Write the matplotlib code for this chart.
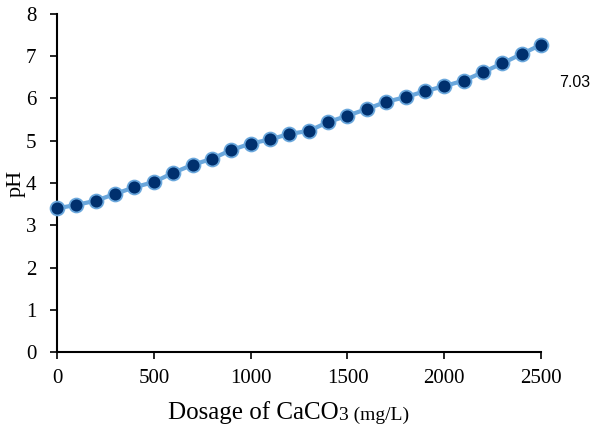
import matplotlib
matplotlib.use("Agg")
import matplotlib.pyplot as plt

# Data
dosage = [0, 100, 200, 300, 400, 500, 600, 700, 800, 900, 1000, 1100, 1200,
          1300, 1400, 1500, 1600, 1700, 1800, 1900, 2000, 2100, 2200, 2300,
          2400, 2500]
ph = [3.40, 3.48, 3.58, 3.74, 3.90, 4.02, 4.24, 4.43, 4.57, 4.78, 4.93, 5.03,
      5.16, 5.23, 5.44, 5.59, 5.75, 5.92, 6.03, 6.17, 6.29, 6.42, 6.62, 6.83,
      7.05, 7.27]
x_ticks = [0, 500, 1000, 1500, 2000, 2500]
y_ticks = [0, 1, 2, 3, 4, 5, 6, 7, 8]
end_label = "7.03"

plt.rcParams['font.family'] = ['Liberation Serif', 'DejaVu Serif']

fig = plt.figure(figsize=(5.94, 4.32), dpi=100)
ax = fig.add_axes([0.096, 0.185, 0.815, 0.783])

# Line with dark markers and light blue edges
ax.plot(dosage, ph, color='#6aa7dc', linewidth=3, marker='o',
        markersize=10, markerfacecolor='#00306e', markeredgecolor='#6aa7dc',
        markeredgewidth=1.3, clip_on=False, zorder=3)

ax.set_xlim(0, 2500)
ax.set_ylim(0, 8)
ax.set_xticks(x_ticks)
ax.set_yticks(y_ticks)
ax.tick_params(labelsize=15, length=5, width=1.2, colors='black')
ax.tick_params(axis='x', pad=7.5)
ax.tick_params(axis='y', pad=10)

for side in ['top', 'right']:
    ax.spines[side].set_visible(False)
for side in ['left', 'bottom']:
    ax.spines[side].set_linewidth(1.5)

# Axis labels
ax.set_ylabel('pH', fontsize=16, labelpad=0)
t1 = fig.text(0.283, 0.03, 'Dosage of CaCO', fontsize=18, ha='left',
              va='baseline')
ax.annotate('3 (mg/L)', xy=(1, 0), xycoords=t1, fontsize=14, ha='left',
            va='bottom')

# Data label at the right side
fig.text(0.942, 0.81, end_label, fontsize=11.5, family='Liberation Sans',
         ha='left', va='center')

fig.savefig('out.png', dpi=100)
